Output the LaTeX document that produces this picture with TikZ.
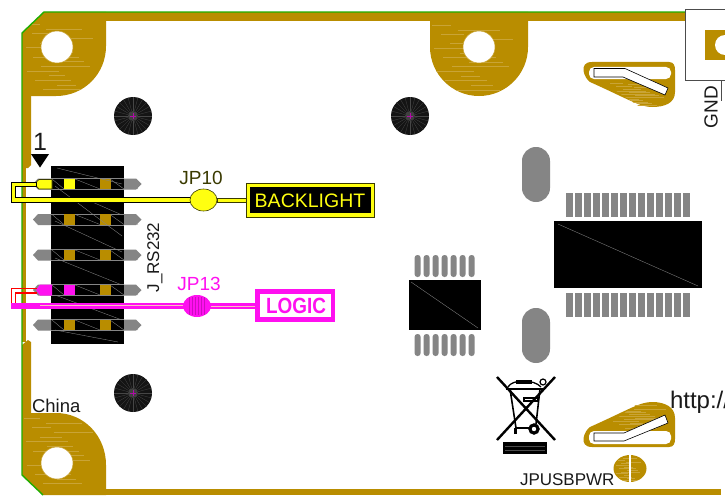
\documentclass[tikz,border=0pt]{standalone}
\usepackage{fontspec}
\setmainfont{Liberation Sans}
\definecolor{gold}{HTML}{B98D00}
\definecolor{goldl}{HTML}{C9A436}
\definecolor{pingray}{HTML}{858585}
\definecolor{grn}{HTML}{1FAE00}
\definecolor{yel}{HTML}{FFFF10}
\definecolor{ydk}{HTML}{3A3A00}
\definecolor{mag}{HTML}{FF10F0}
\definecolor{ink}{HTML}{1A1A1A}
\newcommand{\px}[1]{\fontsize{#1}{#1}\selectfont}
\newcommand{\streaks}[4]{%
  \foreach \i in {0,...,14}{
    \pgfmathsetmacro\yy{#3+(\i+0.5)*(#4-#3)/15}
    \pgfmathsetmacro\xa{#1+mod(\i*37,23)/23*(#2-#1)*0.45}
    \pgfmathsetmacro\xb{\xa+(#2-#1)*(0.2+mod(\i*17,11)/11*0.45)}
    \draw[goldl,line width=.4pt] (\xa,\yy)--(\xb,\yy);
  }}
\tikzset{
  every node/.style={inner sep=0pt,outer sep=0pt},
  hole/.style={fill=white,draw=goldl,line width=.5pt},
}
\begin{document}
\begin{tikzpicture}[x=1pt,y=-1pt]
\useasboundingbox (0,0) rectangle (725,495);
\fill[white] (0,0) rectangle (725,495);
% board copper
\fill[gold] (44,12) rectangle (685,21);
\fill[gold] (43,489) rectangle (721,495);
\fill[gold] (22,90) -- (31,90) -- (31,165) -- (28,168) -- (22,168) -- cycle;
\fill[gold] (22,168) rectangle (26,342);
\fill[gold] (22,345) -- (28,340) -- (31,342) -- (31,420) -- (22,420) -- cycle;
% corner pads
\fill[gold] (22,33) -- (44,12) -- (106,12) -- (106,46) .. controls (106,74) and (84,96) .. (56,96) -- (22,96) -- cycle;
\begin{scope}
  \clip (22,33) -- (44,12) -- (106,12) -- (106,46) .. controls (106,74) and (84,96) .. (56,96) -- (22,96) -- cycle;
  \streaks{24}{104}{22}{92}
\end{scope}
\fill[gold] (22,413) -- (56,413) .. controls (84,413) and (106,436) .. (106,465) -- (106,495) -- (43,495) -- (22,475) -- cycle;
\begin{scope}
  \clip (22,413) -- (56,413) .. controls (84,413) and (106,436) .. (106,465) -- (106,495) -- (43,495) -- (22,475) -- cycle;
  \streaks{24}{104}{416}{486}
\end{scope}
\fill[gold] (430,12) -- (528,12) -- (528,47) .. controls (528,74) and (506,96) .. (479,96) .. controls (452,96) and (430,74) .. (430,47) -- cycle;
\begin{scope}
  \clip (430,21) -- (528,21) -- (528,47) .. controls (528,74) and (506,96) .. (479,96) .. controls (452,96) and (430,74) .. (430,47) -- cycle;
  \streaks{432}{526}{23}{92}
\end{scope}
\filldraw[hole] (57,47) circle (16);
\filldraw[hole] (57,463) circle (16);
\filldraw[hole] (479,47) circle (16);
% green outline
\draw[grn,line width=1.4pt] (685,12) -- (44,12) -- (22,33) -- (22,475) -- (43,495);
% dark round marks
\foreach \cx/\cy in {133/116,410/116,133/393}{
  \fill[black!92] (\cx,\cy) circle (19);
  \foreach \a in {0,15,...,345}{
    \draw[gray!55!black,line width=.3pt] (\cx,\cy) ++(\a:5) -- ++(\a:14);
  }
  \fill[gray!50!black] (\cx,\cy) circle (5);
  \draw[mag!70!black,line width=.3pt] (\cx-3,\cy) -- (\cx+3,\cy) (\cx,\cy-3) -- (\cx,\cy+3);
}
% header
\fill[black] (51,166) rectangle (124,344);
\foreach \ry in {184,219.5,255,290,325}{
  \fill[pingray] (33,\ry) -- (38,\ry-5.5) -- (51,\ry-5.5) -- (51,\ry+5.5) -- (38,\ry+5.5) -- cycle;
  \fill[pingray] (124,\ry-5.5) -- (136,\ry-5.5) -- (141.5,\ry) -- (136,\ry+5.5) -- (124,\ry+5.5) -- cycle;
  \draw[pingray,line width=.4pt] (51,\ry-5.5) -- (124,\ry-5.5) (51,\ry+5.5) -- (124,\ry+5.5);
  \fill[gold] (64,\ry-5.3) rectangle (75,\ry+5.3);
  \fill[gold] (100,\ry-5.3) rectangle (110.5,\ry+5.3);
  \draw[pingray,line width=.35pt] (52,\ry-5) -- (64,\ry+5) (75,\ry-5) -- (100,\ry+5) (110,\ry-5) -- (124,\ry+5) (124,\ry-5) -- (138,\ry+5);
}
\draw[pingray,line width=.35pt] (57,168) -- (122,184) (55,186) -- (122,236) (90,201) -- (122,215)
  (55,258) -- (122,285) (55,295) -- (122,320) (55,330) -- (118,342) (55,221) -- (122,252);
% triangle + 1
\fill[black] (31,154) -- (49,154) -- (40,167.5) -- cycle;
\node[anchor=center] (one) at (40,141.5) {\color{ink}\px{25}1};
% yellow signal
\filldraw[fill=yel,draw=ydk,line width=.6pt] (34.5,184) -- (39,179.5) -- (52,179.5) -- (52,189) -- (39,189) -- cycle;
\fill[yel] (64,178.7) rectangle (75,189.3);
\filldraw[fill=yel,draw=black,line width=.6pt] (36,182) -- (11,182) -- (11,202) -- (190,202) -- (190,197.5) -- (15.5,197.5) -- (15.5,186.5) -- (36,186.5) -- cycle;
\filldraw[fill=yel,draw=ydk,line width=.6pt] (217,198) rectangle (247,202.5);
\filldraw[fill=yel,draw=ydk,line width=.6pt] (203.5,200) ellipse (13.5 and 11);
\node (jp10t) at (201,178) {\color{ydk}\px{19}JP10};
\filldraw[fill=yel,draw=ydk,line width=.8pt] (246,183) rectangle (374,217);
\fill[black] (250,187) rectangle (371,213);
\node (bl) at (310,200.5) {\color{yel}\px{19.5}BACKLIGHT};
% magenta signal
\fill[mag] (36,290) -- (40,284.5) -- (52,284.5) -- (52,295.5) -- (40,295.5) -- cycle;
\fill[mag] (64,284.7) rectangle (75,295.3);
\draw[red,line width=1.2pt] (37,288.5) -- (11.5,288.5) -- (11.5,308);
\draw[red,line width=1.2pt] (37,293) -- (15.5,293) -- (15.5,303);
\fill[mag] (11,303) rectangle (184,308.5);
\fill[mag] (210,303) rectangle (258,309);
\draw[pink,line width=.3pt] (210,306) -- (258,306) (40,305.5) -- (184,305.5);
\fill[mag] (197,306) ellipse (14 and 11);
\foreach \dx in {-8,-5,-2,1,4,7}{\draw[mag!80!black,line width=.25pt] (197+\dx,297) -- (197+\dx,315);}
\node (jp13t) at (199,284) {\color{mag}\px{19}JP13};
\fill[mag] (255,289) rectangle (335,322);
\fill[white] (260,294) rectangle (331,317);
\node[xscale=.86] (lg) at (296,306) {\color{mag}\px{22}\bfseries LOGIC};
% vertical header name
\node[rotate=90] (jr) at (155,257.5) {\color{ink}\px{17}J\_RS232};
% chips
\fill[black] (554,221) rectangle (702,288);
\draw[pingray,line width=.35pt] (558,224) -- (698,286);
\foreach \i in {0,...,13}{
  \fill[pingray] (566+\i*9,193) rectangle (573+\i*9,217);
  \fill[pingray] (566+\i*9,293) rectangle (573+\i*9,317);
}
\fill[black] (409,280) rectangle (481,330);
\draw[pingray,line width=.35pt] (411,282) -- (478,328);
\foreach \i in {0,...,6}{
  \fill[pingray,rounded corners=2.8pt] (414.6+\i*9,255) rectangle (420.6+\i*9,277);
  \fill[pingray,rounded corners=2.8pt] (414.6+\i*9,334) rectangle (420.6+\i*9,356);
}
\fill[pingray,rounded corners=13.9pt] (522,147) rectangle (550,202);
\fill[pingray,rounded corners=13.9pt] (522,308) rectangle (550,363);
% upper slot pad
\fill[gold] (592,62) -- (669,62) .. controls (674,62) and (675,66) .. (675,70) -- (675,92) .. controls (675,103) and (665,107) .. (652,107) .. controls (640,107) and (630,100) .. (590,82) .. controls (584,78) and (578,62) .. (592,62) -- cycle;
\fill[white,rounded corners=5pt] (589,67) rectangle (671,79);
\begin{scope}
 \clip (600,80) -- (675,80) -- (675,107) -- (640,107) -- cycle;
 \streaks{610}{675}{82}{106}
\end{scope}
\filldraw[fill=white,draw=black,line width=.6pt] (594,68.5) -- (625,68.5) -- (668,88) -- (665,95) -- (623,77) -- (594,77) -- cycle;
% lower slot pad
\fill[gold] (592,447) -- (669,447) .. controls (674,447) and (675,443) .. (675,439) -- (675,418) .. controls (675,407) and (665,402) .. (652,402) .. controls (640,402) and (630,409) .. (590,427) .. controls (584,431) and (578,447) .. (592,447) -- cycle;
\fill[white,rounded corners=5pt] (589,431) rectangle (671,444);
\begin{scope}
 \clip (600,430) -- (675,430) -- (675,402) -- (640,402) -- cycle;
 \streaks{610}{675}{403}{429}
\end{scope}
\filldraw[fill=white,draw=black,line width=.6pt] (594,433) -- (624,433) -- (665,415) -- (668,423) -- (624,441) -- (594,441) -- cycle;
% small split pad
\fill[gold] (630,468.5) ellipse (16.5 and 13.5);
\begin{scope}
 \clip (630,468.5) ellipse (16.5 and 13.5);
 \streaks{615}{645}{456}{481}
\end{scope}
\fill[white] (629,454) rectangle (631,483);
% WEEE
\begin{scope}[line cap=butt]
\draw[black,line width=1.6pt] (510,389) -- (516,428) -- (530,428);
\draw[black,line width=1.6pt] (540,389) -- (536,424);
\draw[black,line width=1.5pt] (506,389) -- (543,389);
\draw[black,line width=1.3pt] (508,387) .. controls (512,379) and (534,379) .. (541,387);
\fill[black] (516,380) rectangle (532,384);
\draw[black,line width=1.2pt] (543,382) circle (3);
\draw[black,line width=1.1pt] (524,398) rectangle (538,401);
\filldraw[fill=black,draw=black] (534,429) circle (5.5);
\fill[white] (534,429) circle (2.2);
\fill[black] (514,428) rectangle (517,434);
\draw[black,line width=2.4pt] (497,377) -- (555,440);
\draw[black,line width=2.4pt] (555,377) -- (497,440);
\end{scope}
\fill[black] (503,442) rectangle (547,454);
\draw[gray!60!black,line width=.25pt] (505,446) -- (545,446) (505,450) -- (545,450);
% connector top right
\filldraw[fill=white,draw=black!70,line width=.6pt] (685,9.5) -- (725,9.5) -- (725,80) -- (685,80) -- cycle;
\fill[gold] (705,30) rectangle (725,60);
\fill[white] (725,45) circle (10);
\draw[black!70,line width=.6pt] (721,80) -- (721,101);
\node[rotate=90] (gnd) at (711,107) {\color{ink}\px{19}GND};
% texts
\node[anchor=base west] (china) at (32,412) {\color{ink}\px{18.5}China};
\node[anchor=base west] (usb) at (520,485) {\color{ink}\px{17}JPUSBPWR};
\node[anchor=base west] (url) at (670,408) {\color{ink}\px{24}http://};
\end{tikzpicture}
\end{document}
